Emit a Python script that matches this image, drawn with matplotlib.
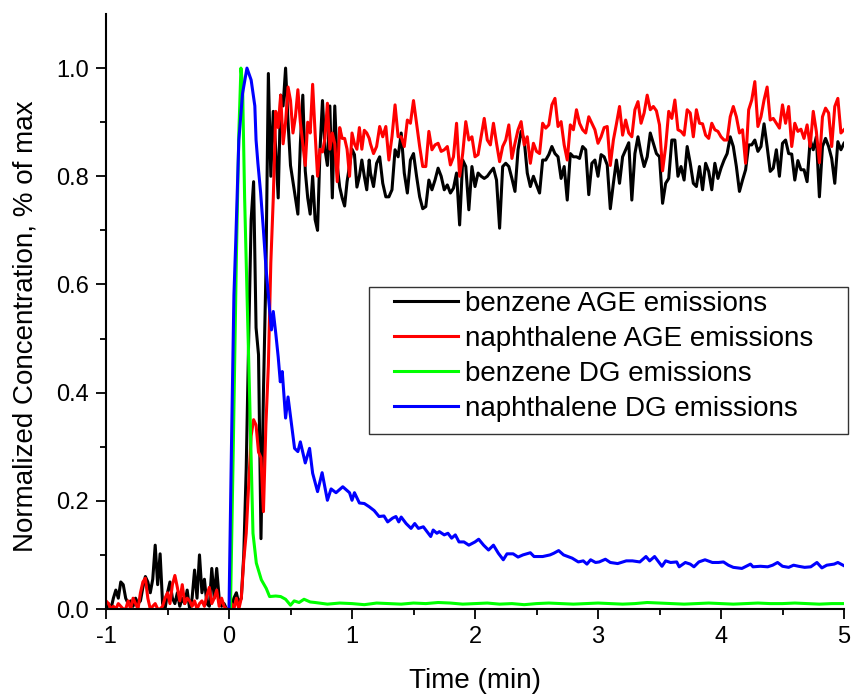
import numpy as np
import matplotlib
matplotlib.use('Agg')
from matplotlib import pyplot as plt
from matplotlib.ticker import MultipleLocator, FixedLocator
from matplotlib.patches import Rectangle

plt.rcParams['font.family'] = ['Liberation Sans', 'DejaVu Sans']
plt.rcParams['axes.unicode_minus'] = False

# AGE runs: 0.02 min steps up to 1.14 min, then 0.025 min steps to 5 min
t_age = np.concatenate([np.linspace(-1.0, 1.14, 108), np.linspace(1.15, 5.0, 155)])

benzene_age = [
    0.00, 0.01, 0.00, 0.02, 0.035, 0.02, 0.05, 0.045, 0.02, 0.01,
    0.015, 0.005, 0.02, 0.01, 0.015, 0.04, 0.06, 0.05, 0.03, 0.055,
    0.118, 0.045, 0.102, 0.01, 0.00, 0.03, 0.05, 0.02, 0.01, 0.03,
    0.005, 0.02, 0.01, 0.035, 0.00, 0.02, 0.072, 0.02, 0.10, 0.03,
    0.055, 0.01, 0.005, 0.075, 0.02, 0.075, 0.02, 0.005, 0.01, 0.00,
    # 0.00 - 0.50
    0.00, 0.005, 0.02, 0.03, 0.01, 0.02, 0.10, 0.26, 0.50, 0.72,
    0.79, 0.52, 0.47, 0.13, 0.40, 0.62, 0.99, 0.80, 0.92, 0.85,
    0.76, 0.95, 0.93, 1.00, 0.90, 0.82,
    # 0.52 - 1.14
    0.79, 0.76, 0.73, 0.86, 0.95, 0.81, 0.76, 0.73, 0.80, 0.72,
    0.70, 0.85, 0.94, 0.85, 0.82, 0.93, 0.76, 0.93, 0.82, 0.78,
    0.76, 0.745, 0.79, 0.82, 0.85, 0.84, 0.78, 0.80, 0.83, 0.80,
    0.775, 0.83,
    # 1.15 - 3.075
    0.806, 0.781, 0.824, 0.836, 0.787, 0.762, 0.762, 0.775, 0.849, 0.836,
    0.88, 0.806, 0.769, 0.83, 0.842, 0.80, 0.762, 0.74, 0.744, 0.793,
    0.775, 0.793, 0.815, 0.80, 0.775, 0.784, 0.769, 0.778, 0.806, 0.71,
    0.83, 0.818, 0.738, 0.818, 0.781, 0.806, 0.80, 0.796, 0.80, 0.808,
    0.815, 0.793, 0.704, 0.818, 0.824, 0.818, 0.796, 0.772, 0.849, 0.883,
    0.867, 0.806, 0.781, 0.80, 0.784, 0.769, 0.83, 0.83, 0.84, 0.855,
    0.842, 0.836, 0.796, 0.818, 0.756, 0.842, 0.836, 0.836, 0.833, 0.855,
    0.849, 0.766, 0.824, 0.83, 0.80, 0.84, 0.836, 0.821,
    # 3.10 - 5.00
    0.74, 0.787, 0.83, 0.787, 0.836, 0.849, 0.862, 0.756, 0.842, 0.873,
    0.842, 0.818, 0.836, 0.88, 0.861, 0.842, 0.836, 0.75, 0.787, 0.796,
    0.867, 0.867, 0.80, 0.818, 0.793, 0.855, 0.824, 0.787, 0.781, 0.818,
    0.775, 0.824, 0.809, 0.775, 0.824, 0.796, 0.815, 0.83, 0.842, 0.873,
    0.855, 0.818, 0.772, 0.793, 0.812, 0.858, 0.858, 0.867, 0.846, 0.855,
    0.897, 0.855, 0.809, 0.815, 0.849, 0.80, 0.861, 0.867, 0.842, 0.841,
    0.793, 0.829, 0.812, 0.812, 0.79, 0.867, 0.849, 0.873, 0.762, 0.855,
    0.87, 0.855, 0.833, 0.787, 0.864, 0.849, 0.861,
]

naphthalene_age = [
    0.015, 0.01, 0.00, 0.005, 0.00, 0.01, 0.005, 0.00, 0.00, 0.015,
    0.00, 0.02, 0.01, 0.00, 0.03, 0.05, 0.057, 0.02, 0.00, 0.005,
    0.01, 0.00, 0.00, 0.005, 0.02, 0.03, 0.01, 0.045, 0.062, 0.04,
    0.015, 0.045, 0.01, 0.02, 0.015, 0.005, 0.015, 0.00, 0.01, 0.015,
    0.005, 0.025, 0.04, 0.01, 0.02, 0.035, 0.005, 0.02, 0.005, 0.00,
    # 0.00 - 0.50
    0.00, 0.01, 0.00, 0.02, 0.00, 0.02, 0.09, 0.14, 0.23, 0.32,
    0.35, 0.34, 0.29, 0.28, 0.18, 0.34, 0.45, 0.64, 0.76, 0.92,
    0.89, 0.95, 0.86, 0.90, 0.965, 0.94,
    # 0.52 - 1.14
    0.88, 0.91, 0.96, 0.90, 0.86, 0.82, 0.90, 0.88, 0.97, 0.88,
    0.80, 0.85, 0.845, 0.87, 0.935, 0.85, 0.88, 0.86, 0.79, 0.89,
    0.87, 0.87, 0.85, 0.80, 0.88, 0.86, 0.85, 0.89, 0.85, 0.885,
    0.88, 0.87,
    # 1.15 - 3.075
    0.86, 0.842, 0.855, 0.892, 0.873, 0.892, 0.83, 0.873, 0.932, 0.873,
    0.873, 0.855, 0.904, 0.898, 0.94, 0.898, 0.855, 0.818, 0.818, 0.883,
    0.849, 0.858, 0.861, 0.846, 0.849, 0.855, 0.821, 0.836, 0.898, 0.80,
    0.842, 0.901, 0.867, 0.873, 0.836, 0.84, 0.873, 0.907, 0.867, 0.858,
    0.898, 0.861, 0.827, 0.855, 0.867, 0.895, 0.833, 0.861, 0.886, 0.901,
    0.858, 0.873, 0.824, 0.861, 0.846, 0.842, 0.898, 0.889, 0.895, 0.932,
    0.944, 0.892, 0.901, 0.858, 0.83, 0.895, 0.886, 0.923, 0.898, 0.886,
    0.88, 0.91, 0.898, 0.886, 0.861, 0.873, 0.89, 0.892,
    # 3.10 - 5.00
    0.82, 0.867, 0.897, 0.929, 0.876, 0.904, 0.88, 0.873, 0.923, 0.938,
    0.898, 0.917, 0.95, 0.923, 0.929, 0.921, 0.895, 0.81, 0.855, 0.92,
    0.907, 0.941, 0.886, 0.883, 0.876, 0.923, 0.917, 0.873, 0.923, 0.898,
    0.897, 0.876, 0.87, 0.898, 0.886, 0.883, 0.873, 0.867, 0.867, 0.91,
    0.929, 0.91, 0.88, 0.886, 0.824, 0.923, 0.941, 0.975, 0.892, 0.91,
    0.941, 0.965, 0.904, 0.907, 0.898, 0.889, 0.932, 0.898, 0.929, 0.855,
    0.898, 0.883, 0.887, 0.87, 0.895, 0.855, 0.92, 0.883, 0.825, 0.91,
    0.926, 0.917, 0.855, 0.929, 0.944, 0.88, 0.886,
]

# DG runs
t_benzene_dg = [0.0, 0.012, 0.035, 0.06, 0.08, 0.097, 0.11, 0.127, 0.15, 0.168,
                0.195, 0.222, 0.263, 0.303, 0.33, 0.38, 0.42, 0.46, 0.50, 0.53,
                0.57, 0.61, 0.66] + list(np.round(np.arange(0.7, 5.01, 0.1), 2))
benzene_dg = [0.0, 0.0, 0.30, 0.65, 0.88, 1.0, 0.97, 0.76, 0.55, 0.39,
              0.14, 0.085, 0.054, 0.038, 0.023, 0.024, 0.023, 0.018, 0.007, 0.015,
              0.012, 0.018, 0.013,
              0.012, 0.009, 0.011, 0.010, 0.008, 0.011, 0.010, 0.009, 0.011, 0.010,
              0.012, 0.011, 0.009, 0.010, 0.011, 0.009, 0.010, 0.008, 0.010, 0.011,
              0.010, 0.009, 0.010, 0.011, 0.010, 0.009, 0.010, 0.012, 0.011, 0.010,
              0.009, 0.010, 0.011, 0.010, 0.009, 0.010, 0.011, 0.010, 0.010, 0.011,
              0.010, 0.009, 0.010, 0.010]

t_naphthalene_dg = [
    0.00, 0.02, 0.04, 0.055, 0.08, 0.11, 0.146, 0.18, 0.21, 0.22,
    0.235, 0.257, 0.28, 0.30, 0.33, 0.345, 0.36, 0.38, 0.40, 0.417,
    0.433, 0.46, 0.48, 0.50, 0.533, 0.56, 0.58, 0.62, 0.655, 0.68,
    0.72, 0.757, 0.80, 0.83, 0.87, 0.925, 0.98, 1.00, 1.02, 1.06,
    1.10, 1.14, 1.18, 1.22, 1.26, 1.29, 1.33, 1.357, 1.38, 1.40,
    1.44, 1.48, 1.51, 1.54, 1.58, 1.64, 1.66, 1.69, 1.71, 1.75,
    1.78, 1.81, 1.84, 1.87, 1.91, 1.95, 2.00, 2.03, 2.07, 2.11,
    2.15, 2.19, 2.23, 2.26, 2.31, 2.35, 2.39, 2.45, 2.48, 2.55,
    2.61, 2.64, 2.68, 2.72, 2.79, 2.84, 2.88, 2.91, 2.94, 2.98,
    3.01, 3.06, 3.10, 3.16, 3.23, 3.28, 3.34, 3.39, 3.42, 3.46,
    3.52, 3.55, 3.59, 3.64, 3.66, 3.71, 3.75, 3.78, 3.82, 3.87,
    3.93, 3.98, 4.02, 4.06, 4.10, 4.17, 4.24, 4.26, 4.32, 4.38,
    4.42, 4.46, 4.50, 4.55, 4.59, 4.63, 4.68, 4.73, 4.78, 4.82,
    4.86, 4.92, 4.95, 5.00,
]
naphthalene_dg = [
    0.00, 0.30, 0.58, 0.68, 0.867, 0.953, 1.00, 0.978, 0.93, 0.867,
    0.824, 0.77, 0.70, 0.633, 0.553, 0.516, 0.55, 0.51, 0.466, 0.42,
    0.439, 0.353, 0.392, 0.356, 0.297, 0.291, 0.309, 0.27, 0.297, 0.251,
    0.217, 0.252, 0.201, 0.222, 0.215, 0.226, 0.215, 0.201, 0.215, 0.196,
    0.195, 0.189, 0.182, 0.171, 0.172, 0.161, 0.168, 0.171, 0.161, 0.170,
    0.158, 0.149, 0.158, 0.149, 0.152, 0.134, 0.146, 0.140, 0.143, 0.137,
    0.140, 0.131, 0.137, 0.124, 0.124, 0.118, 0.124, 0.129, 0.118, 0.109,
    0.118, 0.103, 0.091, 0.102, 0.102, 0.096, 0.100, 0.104, 0.097, 0.097,
    0.100, 0.103, 0.108, 0.100, 0.094, 0.087, 0.089, 0.083, 0.091, 0.086,
    0.087, 0.092, 0.086, 0.084, 0.089, 0.089, 0.087, 0.097, 0.089, 0.097,
    0.079, 0.089, 0.086, 0.087, 0.078, 0.086, 0.083, 0.078, 0.087, 0.091,
    0.086, 0.086, 0.087, 0.081, 0.077, 0.075, 0.083, 0.078, 0.079, 0.078,
    0.081, 0.086, 0.079, 0.077, 0.081, 0.079, 0.077, 0.078, 0.086, 0.076,
    0.081, 0.083, 0.086, 0.080,
]

series = [
    ('benzene AGE emissions', t_age, benzene_age, '#000000'),
    ('naphthalene AGE emissions', t_age, naphthalene_age, '#ff0000'),
    ('benzene DG emissions', t_benzene_dg, benzene_dg, '#00ff00'),
    ('naphthalene DG emissions', t_naphthalene_dg, naphthalene_dg, '#0000ff'),
]


def main():
    fig = plt.figure(figsize=(8.51, 6.96), dpi=100)
    ax = fig.add_axes([106 / 851, 87 / 696, 738 / 851, 595 / 696])

    for name, t, y, color in series:
        ax.plot(t, y, color=color, lw=2.2, label=name)

    ax.set_xlim(-1, 5)
    ax.set_ylim(0, 1.1)
    ax.xaxis.set_major_locator(MultipleLocator(1))
    ax.xaxis.set_minor_locator(MultipleLocator(0.5))
    ax.yaxis.set_major_locator(FixedLocator([0.0, 0.2, 0.4, 0.6, 0.8, 1.0]))
    ax.yaxis.set_minor_locator(FixedLocator([0.1, 0.3, 0.5, 0.7, 0.9]))
    ax.yaxis.set_major_formatter(plt.FuncFormatter(lambda v, p: f'{v:.1f}'))

    for side in ('top', 'right'):
        ax.spines[side].set_visible(False)
    for side in ('left', 'bottom'):
        ax.spines[side].set_linewidth(1.5)
    ax.tick_params(which='major', direction='out', length=7.5, width=1.3, labelsize=17, pad=5)
    ax.tick_params(which='minor', direction='out', length=4, width=1.3)

    ax.set_xlabel('Time (min)', fontsize=20, labelpad=14)
    ax.set_ylabel('Normalized Concentration, % of max', fontsize=20)
    ax.yaxis.set_label_coords(-0.091, 0.476)

    box = Rectangle((0.356, 0.294), 0.649, 0.2477, transform=ax.transAxes,
                    fill=False, edgecolor='#333333', lw=1.0, clip_on=False, zorder=5)
    ax.add_patch(box)
    ax.legend(loc='upper left', bbox_to_anchor=(0.3902, 0.535), frameon=False,
              fontsize=20, borderpad=0, borderaxespad=0, handlelength=2.3,
              handletextpad=0.25, labelspacing=0.33)

    fig.savefig('out.png', dpi=100)


if __name__ == '__main__':
    main()
